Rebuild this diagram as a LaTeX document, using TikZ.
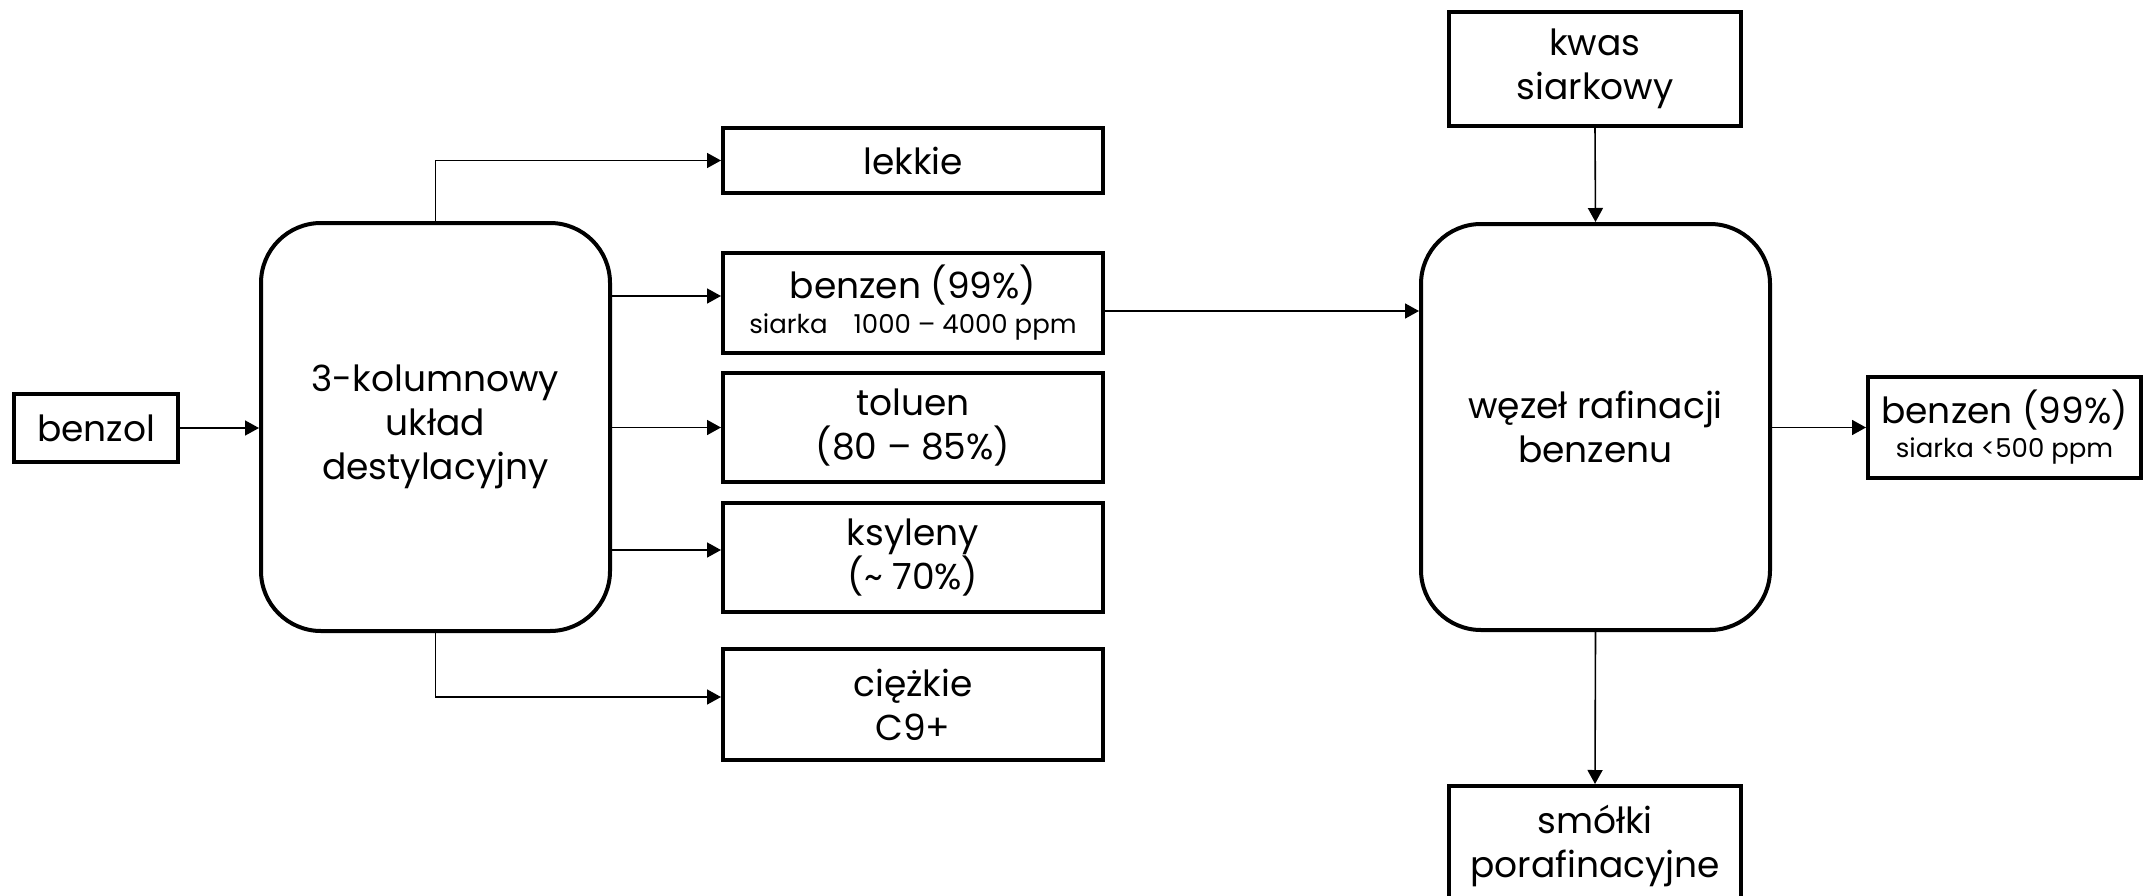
\documentclass[tikz,border=0pt]{standalone}
\usepackage{fontspec}
\setmainfont{Poppins}
\usetikzlibrary{arrows.meta,calc}
\begin{document}
\begin{tikzpicture}[x=1pt,y=-1pt,
  bigtxt/.style={font=\fontsize{36}{44}\selectfont},
  box/.style={draw, line width=4pt, rectangle, align=center, inner sep=0pt, bigtxt},
  unit/.style={box, rounded corners=60pt},
  flow/.style={line width=1.6pt, -{Triangle[length=14pt,width=15pt]}}]
\newcommand{\smalltxt}{\fontsize{26}{30}\selectfont}
\useasboundingbox (0,0) rectangle (2143,896);

% feed and distillation unit
\node[box, minimum width=164pt, minimum height=68pt] (benzol) at (96,428) {benzol};
\node[unit, minimum width=349pt, minimum height=408pt] (dist) at (435.5,427) {3-kolumnowy\\układ\\destylacyjny};

% distillation products
\node[box, minimum width=380pt, minimum height=65pt] (lekkie) at (913,160.5) {lekkie};
\node[box, minimum width=380pt, minimum height=100pt] (benzen) at (913,303) {benzen (99\%)\\[-9pt]{\smalltxt siarka\quad 1000 – 4000 ppm}};
\node[box, minimum width=380pt, minimum height=109pt] (toluen) at (913,427.5) {toluen\\(80 – 85\%)};
\node[box, minimum width=380pt, minimum height=109pt] (ksyleny) at (913,557.5) {ksyleny\\(\textasciitilde{} 70\%)};
\node[box, minimum width=380pt, minimum height=111pt] (ciezkie) at (913,704.5) {ciężkie\\C9+};

% refining section
\node[box, minimum width=292pt, minimum height=114pt] (kwas) at (1595,69) {kwas\\siarkowy};
\node[unit, minimum width=349pt, minimum height=406pt] (raf) at (1595.5,427) {węzeł rafinacji\\benzenu};
\node[box, minimum width=273pt, minimum height=101pt] (czysty) at (2004.5,427.5) {benzen (99\%)\\[-10pt]{\smalltxt siarka <500 ppm}};
\node[box, minimum width=292pt, minimum height=119pt] (smolki) at (1595,845.5) {smółki\\porafinacyjne};

% streams
\draw[flow] (benzol.east) -- (benzol.east -| dist.west);
\draw[flow] (dist.north) |- (lekkie.west);
\draw[flow] (dist.east |- 0,296) -- (benzen.west |- 0,296);
\draw[flow] (dist.east |- toluen.west) -- (toluen.west);
\draw[flow] (dist.east |- 0,550) -- (ksyleny.west |- 0,550);
\draw[flow] (dist.south) |- (ciezkie.west |- 0,697);
\draw[flow] (benzen.east |- 0,311) -- (raf.west |- 0,311);
\draw[flow] (kwas.south) -- (raf.north);
\draw[flow] (raf.east |- czysty.west) -- (czysty.west);
\draw[flow] (raf.south) -- (smolki.north);
\end{tikzpicture}
\end{document}
